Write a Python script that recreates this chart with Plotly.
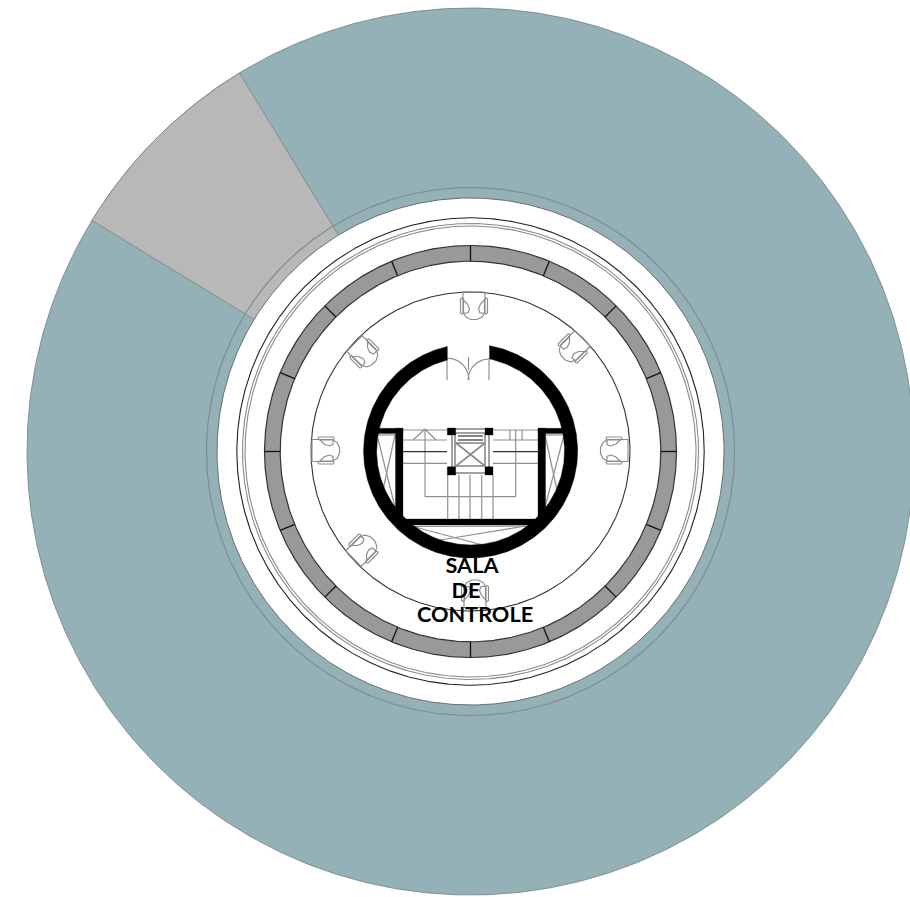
import numpy as np
import plotly.graph_objects as go

# ---- plan geometry (pixel coordinates, y down) ----
CENTER = (470.5, 451.5)
CORE_CENTER = (470.6, 451.0)
R_SITE = 443.5
R_HALO = 264.0
R_DISC = 253.5
R_OUTER_LINE = 233.7
R_GLASS = [228.0, 225.5]
R_BAND = [206.0, 190.3]
R_ROOM = 159.5
R_CORE = [107.0, 94.0]
WEDGE_ANGLES = [31.4, 58.6]          # degrees left of north
BAND_DIVIDERS = [i * 22.5 for i in range(16)]
DOOR_OUTER = [-12.6, 10.2]           # degrees from north
DOOR_INNER = [-14.4, 11.7]

COL_SITE = "#94b1b7"
COL_WEDGE = "#b8b8b8"
COL_BAND = "#999999"
COL_EDGE = "#6f7f83"
COL_GREY = "#8f8f8f"

WALLS = [  # x0, x1, y0, y1
    (378, 403, 428.3, 433.5), (538, 563, 428.3, 433.5),
    (395.5, 403, 428.3, 525), (538, 545.5, 428.3, 525),
    (396, 545, 519, 525),
    (447.3, 455.7, 428, 435), (485, 493, 428, 435),
    (447.3, 455.7, 466.7, 475), (485, 493, 466.7, 475),
]
GREY_SEGMENTS = [
    # door jambs
    ((447, 358), (447, 380)), ((489, 358), (489, 380)), ((468.5, 357), (468.5, 370)),
    # stair top line
    ((403, 430), (447, 430)), ((493, 430), (538, 430)),
    # left treads
    ((403, 440), (447, 440)), ((403, 463.3), (447, 463.3)),
    # right treads
    ((493, 440), (538, 440)), ((493, 463.3), (538, 463.3)),
    # lower treads
    ((447.7, 475), (447.7, 519)), ((459, 475), (459, 519)), ((470, 475), (470, 519)),
    ((481.7, 475), (481.7, 519)), ((493, 475), (493, 519)),
    # handrail
    ((425, 430), (425, 496.7)), ((425, 496.7), (515.7, 496.7)), ((515.7, 496.7), (515.7, 430)),
    # arrow
    ((413, 440), (425, 429)), ((425, 429), (436, 440)),
    # small risers
    ((510, 430), (510, 440)), ((522, 430), (522, 440)),
    # left shaft
    ((377, 435), (395.5, 435)), ((377, 435), (395, 507)), ((395, 435), (383, 490)),
    # right shaft
    ((545, 435), (564, 435)), ((564, 435), (545, 507)), ((545, 435), (557, 490)),
    # lower shaft
    ((413, 526.5), (526, 526)), ((413, 526.5), (490, 547)), ((526, 526), (440, 540)),
]
ELEVATOR_SEGMENTS = [
    ((452, 431), (452, 470)), ((489, 431), (489, 470)), ((455, 429), (485, 429)),
    ((455, 473), (485, 473)), ((455, 433), (455, 466)), ((485, 433), (485, 466)),
    ((455, 466), (485, 466)), ((456, 443), (485, 466)), ((485, 443), (456, 466)),
    ((455, 433), (485, 433)), ((455, 443), (485, 443)),
]
DARK_SEGMENTS = [
    ((403, 451.7), (447, 451.7)), ((493, 451.7), (538, 451.7)),
    ((458, 436), (483, 436)), ((458, 440), (483, 440)),
]
DOOR_ARCS = [  # hinge x, hinge y, start deg, end deg (screen angle), radius
    (447, 380, -90, 0, 22), (489, 380, 180, 270, 21),
]
CHAIRS = [  # centre x, centre y, facing (deg, screen coords)
    (474, 305.5, 90), (573, 348, 135), (614.5, 450.5, 180), (325.5, 450.5, 0),
    (364, 353, 45), (363, 549, -45), (475, 594, -90),
]
LABELS = ["SALA", "DE", "CONTROLE"]
LABEL_X = [472, 466, 475]
LABEL_Y = [568, 592.5, 616.5]


def circle(r, c=CENTER):
    t = np.radians(np.linspace(0, 360, 721))
    return c[0] + r * np.cos(t), c[1] + r * np.sin(t)


def polar(r, deg_from_north, c=CENTER):
    a = np.radians(deg_from_north)
    return c[0] + r * np.sin(a), c[1] - r * np.cos(a)


fig = go.Figure()


def add(x, y, color="#000", width=1.0, fill=None):
    fig.add_trace(go.Scatter(
        x=list(x), y=list(y), mode="lines" if width > 0 else "none",
        line=dict(color=color, width=width) if width > 0 else None,
        fill="toself" if fill else None, fillcolor=fill,
        hoverinfo="skip", showlegend=False))


def add_segments(segs, color, width):
    xs, ys = [], []
    for (a, b) in segs:
        xs += [a[0], b[0], None]
        ys += [a[1], b[1], None]
    add(xs, ys, color, width)


# site disc
add(*circle(R_SITE), color=COL_EDGE, width=0.8, fill=COL_SITE)

# grey wedge
a = np.linspace(-WEDGE_ANGLES[0], -WEDGE_ANGLES[1], 80)
ox, oy = polar(R_SITE, a)
ix, iy = polar(R_DISC - 1, a[::-1])
add(np.r_[ox, ix, ox[0]], np.r_[oy, iy, oy[0]], color="#7f7f7f", width=0.8, fill=COL_WEDGE)

# halo line and white disc
add(*circle(R_HALO), color="#7f8d90", width=1.2)
add(*circle(R_DISC), color="#555555", width=0.8, fill="#ffffff")

# glazing
add(*circle(R_OUTER_LINE), color="#222222", width=1.1)
for r in R_GLASS:
    add(*circle(r), color="#8a8a8a", width=1.1)

# grey band
add(*circle(R_BAND[0]), color="#333333", width=1.2, fill=COL_BAND)
add(*circle(R_BAND[1]), color="#333333", width=1.2, fill="#ffffff")
segs = []
for d in BAND_DIVIDERS:
    segs.append((polar(R_BAND[1], d), polar(R_BAND[0], d)))
add_segments(segs, "#111111", 1.3)

# room
add(*circle(R_ROOM), color="#333333", width=1.1)

# chairs
chair_paths = [
    [(0, -11), (20, -11), (25, -8), (27.5, -3), (27.5, 3), (25, 8), (20, 11), (0, 11), (0, -11)],
    [(7, -10.5), (21, -10.5), (22, -12), (21, -13.5), (7, -13.5), (6, -12), (7, -10.5)],
    [(7, 10.5), (21, 10.5), (22, 12), (21, 13.5), (7, 13.5), (6, 12), (7, 10.5)],
    [(8, -10.5), (12, -6.5), (17, -4.5), (21, -6), (21, -10.5)],
    [(8, 10.5), (12, 6.5), (17, 4.5), (21, 6), (21, 10.5)],
]
for cx, cy, face in CHAIRS:
    th = np.radians(face)
    xs, ys = [], []
    for path in chair_paths:
        for u, v in path:
            u2 = u - 13.5
            xs.append(cx + u2 * np.cos(th) - v * np.sin(th))
            ys.append(cy + u2 * np.sin(th) + v * np.cos(th))
        xs.append(None)
        ys.append(None)
    add(xs, ys, "#8c8c8c", 1.15)

# grey fine lines of the core (below the walls)
add_segments(GREY_SEGMENTS, COL_GREY, 1.2)
add_segments(ELEVATOR_SEGMENTS, "#8a8a8a", 1.6)
add_segments(DARK_SEGMENTS, "#333333", 1.2)
for hx, hy, a0, a1, r in DOOR_ARCS:
    t = np.radians(np.linspace(a0, a1, 30))
    add(hx + r * np.cos(t), hy + r * np.sin(t), COL_GREY, 1.2)

# core ring, open at the door
ao = np.linspace(DOOR_OUTER[1], 360 + DOOR_OUTER[0], 300)
ai = np.linspace(360 + DOOR_INNER[0], DOOR_INNER[1], 300)
ox, oy = polar(R_CORE[0], ao, CORE_CENTER)
ix, iy = polar(R_CORE[1], ai, CORE_CENTER)
add(np.r_[ox, ix, ox[0]], np.r_[oy, iy, oy[0]], color="#000000", width=0.5, fill="#000000")

# walls
for x0, x1, y0, y1 in WALLS:
    add([x0, x1, x1, x0, x0], [y0, y0, y1, y1, y0], color="#000000", width=0.3, fill="#000000")

# label
fig.add_trace(go.Scatter(
    x=LABEL_X, y=LABEL_Y, mode="text", text=LABELS,
    textposition="middle center",
    textfont=dict(family="Lato", size=21.7, color="#000000", weight=700),
    hoverinfo="skip", showlegend=False))

fig.update_layout(
    width=910, height=897, autosize=False,
    margin=dict(l=0, r=0, t=0, b=0),
    paper_bgcolor="#ffffff", plot_bgcolor="#ffffff",
    xaxis=dict(range=[0, 910], visible=False, fixedrange=True),
    yaxis=dict(range=[897, 0], visible=False, fixedrange=True),
)
fig.write_html("out.html", config={"displayModeBar": False},
               post_script="document.body.style.margin='0';")
